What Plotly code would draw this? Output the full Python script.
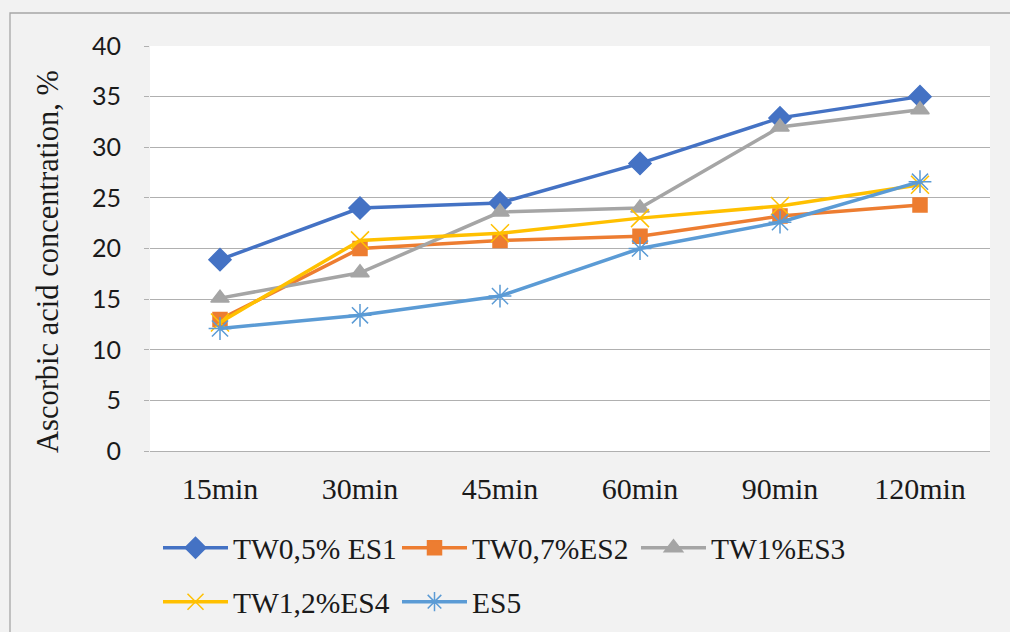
import plotly.graph_objects as go

categories = ["15min", "30min", "45min", "60min", "90min", "120min"]
series_names = ["TW0,5% ES1", "TW0,7%ES2", "TW1%ES3", "TW1,2%ES4", "ES5"]
es1 = [18.9, 24.0, 24.5, 28.4, 32.9, 35.0]
es2 = [13.0, 20.0, 20.8, 21.2, 23.2, 24.3]
es3 = [15.1, 17.6, 23.6, 24.0, 32.0, 33.7]
es4 = [12.7, 20.8, 21.5, 23.0, 24.2, 26.3]
es5 = [12.1, 13.4, 15.3, 20.0, 22.6, 26.6]
y_ticks = [0, 5, 10, 15, 20, 25, 30, 35, 40]

colors = ["#4472C4", "#ED7D31", "#A5A5A5", "#FFC000", "#5B9BD5"]
symbols = ["diamond", "square", "triangle-up", "x-thin-open", "asterisk-open"]
msizes = [17, 14, 16, 18, 19]
legends = ["legend", "legend", "legend", "legend2", "legend2"]

fig = go.Figure()
for name, vals, c, s, ms, lg in zip(series_names, [es1, es2, es3, es4, es5],
                                    colors, symbols, msizes, legends):
    fig.add_trace(go.Scatter(
        x=categories, y=vals, name=name, mode="lines+markers",
        line=dict(color=c, width=3.5),
        marker=dict(symbol=s, size=ms, color=c, line=dict(color=c, width=1.5)),
        legend=lg,
    ))

W, H = 1010, 632
L, R, T, B = 150, 20, 46, 181
pw, ph = W - L - R, H - T - B

def px(xp):
    return (xp - L) / pw

def py(yp):
    return (H - B - yp) / ph

legend_font = dict(family="Liberation Serif", size=29.5, color="#1a1a1a")

fig.update_layout(
    width=W, height=H,
    margin=dict(l=L, r=R, t=T, b=B, autoexpand=False),
    paper_bgcolor="#f2f2f2",
    plot_bgcolor="#ffffff",
    showlegend=True,
    legend=dict(orientation="h", x=px(158), y=py(548), xanchor="left", yanchor="middle",
                font=legend_font, bgcolor="rgba(0,0,0,0)", itemwidth=65,
                entrywidth=159, entrywidthmode="pixels", traceorder="normal"),
    legend2=dict(orientation="h", x=px(158), y=py(602), xanchor="left", yanchor="middle",
                 font=legend_font, bgcolor="rgba(0,0,0,0)", itemwidth=65,
                 entrywidth=159, entrywidthmode="pixels", traceorder="normal"),
    xaxis=dict(
        type="category", range=[-0.5, len(categories) - 0.5],
        showgrid=False, zeroline=False,
        showline=True, linecolor="#b0b0b0", linewidth=1.3,
        tickfont=dict(family="Liberation Serif", size=30, color="#1a1a1a"),
        ticks="", ticklabelstandoff=11,
    ),
    yaxis=dict(
        range=[0, 40], tickvals=y_ticks, showgrid=True, gridcolor="#b0b0b0", gridwidth=1.3,
        zeroline=False, showline=False,
        ticks="outside", ticklen=5, tickcolor="#b0b0b0",
        tickfont=dict(family="Lato", size=25, color="#1a1a1a"),
        ticklabelstandoff=18,
    ),
    annotations=[dict(
        text="Ascorbic acid concentration, %", textangle=-90,
        xref="paper", yref="paper", x=px(48), y=py(262),
        xanchor="center", yanchor="middle", showarrow=False,
        font=dict(family="Liberation Serif", size=30.5, color="#1a1a1a"),
    )],
    shapes=[dict(
        type="path", xref="paper", yref="paper",
        path=f"M {px(10)} {py(660)} L {px(10)} {py(13)} L {px(1040)} {py(13)}",
        line=dict(color="#a6a6a6", width=1.3), layer="below",
    )],
)

fig.write_html(
    "out.html",
    config={"displayModeBar": False},
    post_script="document.body.style.margin='0';document.body.style.background='#f2f2f2';"
                "document.body.style.overflow='hidden';"
                "document.documentElement.style.overflow='hidden';"
                "document.documentElement.style.background='#f2f2f2';",
)
